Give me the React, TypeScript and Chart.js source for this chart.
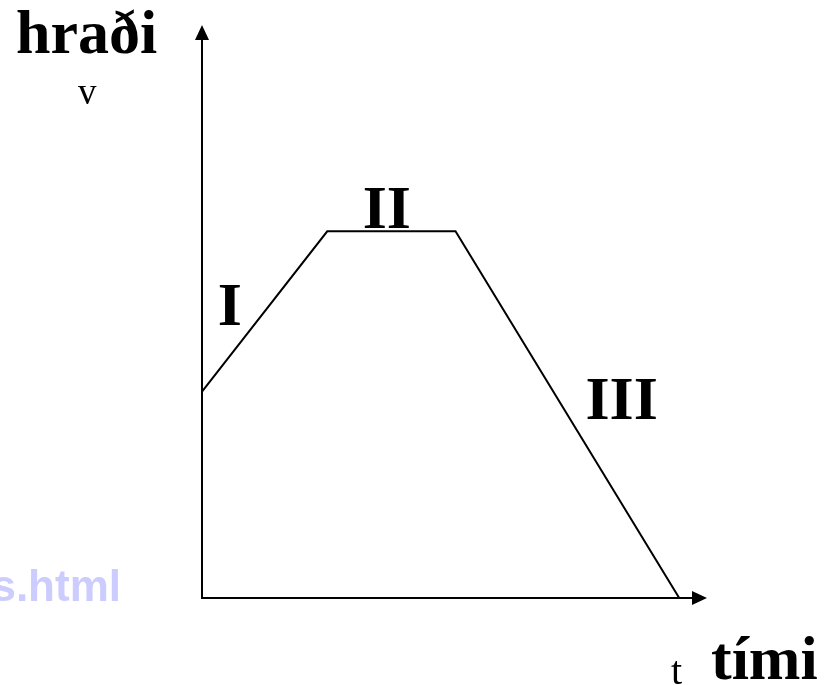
import React, { useEffect, useRef } from "react";
import { Chart, registerables } from "chart.js";

Chart.register(...registerables);

// Data: speed (v) over time (t), three phases
const timeValues = [0, 2.48, 5.02, 9.45];
const speedValues = [3.6, 6.4, 6.4, 0];
const phaseLabels = ["I", "II", "III"];
const phaseLabelTimes = [0.55, 3.66, 8.31];
const phaseLabelSpeeds = [4.76, 6.45, 3.12];
const yAxisTitle = "hraði";
const yAxisSymbol = "v";
const xAxisTitle = "tími";
const xAxisSymbol = "t";
const watermark = "s.html";

const axesPlugin = {
  id: "axesArrows",
  afterDraw(chart: any) {
    const ctx = chart.ctx;
    const { left, right, top, bottom } = chart.chartArea;
    const xs = chart.scales.x;
    const ys = chart.scales.y;
    ctx.save();
    ctx.strokeStyle = "#000";
    ctx.fillStyle = "#000";
    ctx.lineWidth = 2;
    // y axis
    ctx.beginPath();
    ctx.moveTo(left, bottom + 1);
    ctx.lineTo(left, top + 12);
    ctx.stroke();
    ctx.beginPath();
    ctx.moveTo(left, top);
    ctx.lineTo(left - 7, top + 15);
    ctx.lineTo(left + 7, top + 15);
    ctx.closePath();
    ctx.fill();
    // x axis
    ctx.beginPath();
    ctx.moveTo(left - 1, bottom);
    ctx.lineTo(right - 12, bottom);
    ctx.stroke();
    ctx.beginPath();
    ctx.moveTo(right, bottom);
    ctx.lineTo(right - 15, bottom - 7);
    ctx.lineTo(right - 15, bottom + 7);
    ctx.closePath();
    ctx.fill();

    // phase labels
    ctx.font = "bold 62px 'Liberation Serif', 'Times New Roman', serif";
    ctx.textAlign = "center";
    ctx.textBaseline = "alphabetic";
    phaseLabels.forEach((lab, i) => {
      ctx.fillText(lab, xs.getPixelForValue(phaseLabelTimes[i]), ys.getPixelForValue(phaseLabelSpeeds[i]));
    });

    // axis titles
    ctx.textAlign = "left";
    ctx.fillText(yAxisTitle, 16, 53);
    ctx.fillText(xAxisTitle, 711, 679);
    ctx.font = "37px 'Liberation Serif', 'Times New Roman', serif";
    ctx.fillText(yAxisSymbol, 78, 104);
    ctx.font = "40px 'Liberation Serif', 'Times New Roman', serif";
    ctx.fillText(xAxisSymbol, 671, 684);

    // watermark
    ctx.fillStyle = "#ccccff";
    ctx.font = "bold 44px 'Liberation Sans', Arial, sans-serif";
    ctx.textAlign = "right";
    ctx.fillText(watermark, 121, 601);
    ctx.restore();
  },
};

export default function App() {
  const ref = useRef<HTMLCanvasElement | null>(null);
  useEffect(() => {
    if (!ref.current) return;
    const chart = new Chart(ref.current, {
      type: "line",
      data: {
        datasets: [
          {
            data: timeValues.map((t, i) => ({ x: t, y: speedValues[i] })),
            borderColor: "#000",
            borderWidth: 2,
            pointRadius: 0,
            fill: false,
            tension: 0,
          },
        ],
      },
      options: {
        animation: false,
        responsive: false,
        maintainAspectRatio: false,
        layout: { padding: { left: 202, right: 124, top: 25, bottom: 87 } },
        plugins: { legend: { display: false }, tooltip: { enabled: false }, title: { display: false } },
        scales: {
          x: { type: "linear", min: 0, max: 10, display: false },
          y: { type: "linear", min: 0, max: 10, display: false },
        },
      },
      plugins: [axesPlugin],
    });
    return () => chart.destroy();
  }, []);
  return (
    <div style={{ position: "fixed", left: 0, top: 0, width: 831, height: 685, background: "#fff" }}>
      <canvas ref={ref} width={831} height={685} style={{ display: "block" }} />
    </div>
  );
}
